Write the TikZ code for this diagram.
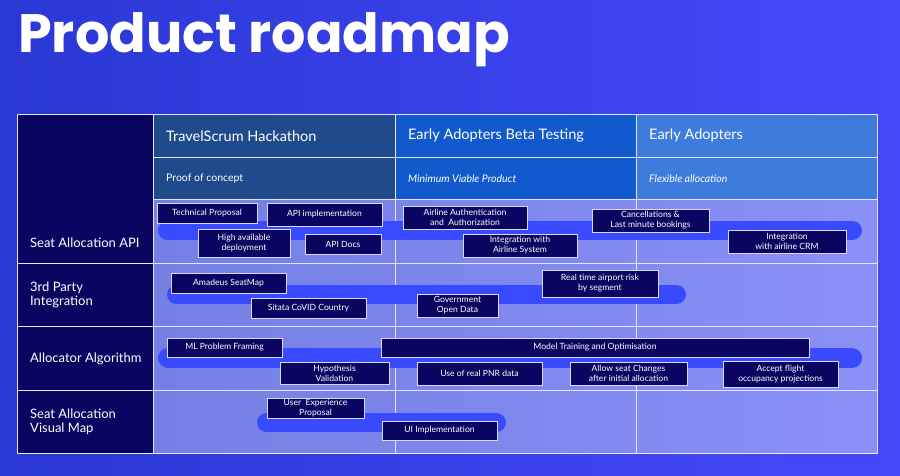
\documentclass[tikz,border=0pt]{standalone}
\usepackage{fontspec}
\setmainfont{Lato}
\newfontfamily\titlefont{Poppins}
\usetikzlibrary{positioning}

\definecolor{bgleft}{HTML}{2A38D5}
\definecolor{bgright}{HTML}{4648FA}
\definecolor{navy}{HTML}{0A0560}
\definecolor{hackblue}{HTML}{1F4A8C}
\definecolor{betablue}{HTML}{1259CE}
\definecolor{adoptblue}{HTML}{3D7BDC}
\definecolor{bodyleft}{HTML}{7480E3}
\definecolor{bodyright}{HTML}{8A90F6}
\definecolor{barblue}{HTML}{3A4BFF}

\tikzset{
  taskbox/.style={rectangle, draw=white!85!blue, line width=0.7pt, fill=navy,
    text=white, font=\fontsize{8.6}{10}\selectfont, align=center, inner sep=0pt},
  track/.style={draw=barblue, line width=19pt, line cap=round},
  gridline/.style={draw=white!90!blue, line width=0.7pt},
  cell/.style={rectangle, gridline, anchor=north west, inner sep=0pt},
  rowlabel/.style={text=white, font=\fontsize{13}{14.5}\selectfont, align=left,
    anchor=west, inner sep=0pt},
  phase/.style={text=white, font=\fontsize{14.5}{16}\selectfont, anchor=west, inner sep=0pt},
  goal/.style={text=white, font=\itshape\fontsize{10.5}{12}\selectfont, anchor=west, inner sep=0pt},
}

\begin{document}
\begin{tikzpicture}[x=1pt, y=-1pt]
  \useasboundingbox (0,0) rectangle (900,475);
  \shade[left color=bgleft, right color=bgright] (0,0) rectangle (900,475);

  % title
  \node[anchor=base west, inner sep=0pt, text=white,
  font=\titlefont\bfseries\fontsize{54}{54}\selectfont] (title) at (18,52) {Product roadmap};

  % table body
  \shade[left color=bodyleft, right color=bodyright] (153,199) rectangle (877,453);

  % left column
  \node[cell, fill=navy, minimum width=136pt, minimum height=149pt] (lab1) at (17,114) {};
  \node[cell, fill=navy, minimum width=136pt, minimum height=63pt] (lab2) at (17,263) {};
  \node[cell, fill=navy, minimum width=136pt, minimum height=64pt] (lab3) at (17,326) {};
  \node[cell, fill=navy, minimum width=136pt, minimum height=63pt] (lab4) at (17,390) {};

  % phase headers
  \node[cell, fill=hackblue, minimum width=242pt, minimum height=43pt] (h1) at (153,114) {};
  \node[cell, fill=betablue, minimum width=241pt, minimum height=43pt] (h2) at (395,114) {};
  \node[cell, fill=adoptblue, minimum width=241pt, minimum height=43pt] (h3) at (636,114) {};
  \node[cell, fill=hackblue, minimum width=242pt, minimum height=42pt] (s1) at (153,157) {};
  \node[cell, fill=betablue, minimum width=241pt, minimum height=42pt] (s2) at (395,157) {};
  \node[cell, fill=adoptblue, minimum width=241pt, minimum height=42pt] (s3) at (636,157) {};

  \node[phase, right=13pt of h1.west] (t1) {TravelScrum Hackathon};
  \node[phase, right=13pt of h2.west] (t2) {Early Adopters Beta Testing};
  \node[phase, right=13pt of h3.west] (t3) {Early Adopters};
  \node[goal, right=13pt of s1.west, font=\fontsize{10.5}{12}\selectfont] (g1) {Proof of concept};
  \node[goal, right=13pt of s2.west] (g2) {Minimum Viable Product};
  \node[goal, right=13pt of s3.west] (g3) {Flexible allocation};

  % grid
  \draw[gridline] (17,114) rectangle (877,453);
  \draw[gridline] (395,199) -- (395,453);
  \draw[gridline] (636,199) -- (636,453);
  \draw[gridline] (153,199) -- (877,199);
  \draw[gridline] (17,263) -- (877,263);
  \draw[gridline] (17,326) -- (877,326);
  \draw[gridline] (17,390) -- (877,390);

  % row labels
  \node[rowlabel] (r1) at (30,243) {Seat Allocation API};
  \node[rowlabel] (r2) at (30,295) {3rd Party\\Integration};
  \node[rowlabel] (r3) at (30,359) {Allocator Algorithm};
  \node[rowlabel] (r4) at (30,422) {Seat Allocation\\Visual Map};

  % tracks
  \coordinate (apiA) at (167.5,230.5);
  \coordinate (apiB) at (852.5,230.5);
  \coordinate (thirdA) at (176.5,294.5);
  \coordinate (thirdB) at (676.5,294.5);
  \coordinate (algoA) at (168,358);
  \coordinate (algoB) at (852,358);
  \coordinate (mapA) at (266.5,422.5);
  \coordinate (mapB) at (496.5,422.5);
  \draw[track] (apiA) -- (apiB);
  \draw[track] (thirdA) -- (thirdB);
  \draw[track, line width=20pt] (algoA) -- (algoB);
  \draw[track] (mapA) -- (mapB);

  % seat allocation api
  \node[taskbox, minimum width=100pt, minimum height=20pt] (tech) at (207,213) {Technical Proposal};
  \node[taskbox, minimum width=115pt, minimum height=23pt] (impl) at (324.5,214.5) {API implementation};
  \node[taskbox, minimum width=92pt, minimum height=28pt] (avail) at (244,243) {High available\\deployment};
  \node[taskbox, minimum width=76pt, minimum height=20pt] (docs) at (343,244) {API Docs};
  \node[taskbox, minimum width=124pt, minimum height=23pt] (auth) at (465,217.5) {Airline Authentication\\and~~Authorization};
  \node[taskbox, minimum width=114pt, minimum height=23pt] (sys) at (520,245.5) {Integration with\\Airline System};
  \node[taskbox, minimum width=117pt, minimum height=23pt] (cancel) at (650.5,220.5) {Cancellations \&\\Last minute bookings};
  \node[taskbox, minimum width=118pt, minimum height=23pt] (crm) at (787,241.5) {Integration\\with airline CRM};

  % 3rd party integration
  \node[taskbox, minimum width=115pt, minimum height=20pt] (amadeus) at (228.5,283) {Amadeus SeatMap};
  \node[taskbox, minimum width=115pt, minimum height=20pt] (sitata) at (308.5,308) {Sitata CoVID Country};
  \node[taskbox, minimum width=81pt, minimum height=23pt] (gov) at (457.5,305.5) {Government\\Open Data};
  \node[taskbox, minimum width=116pt, minimum height=27pt] (risk) at (600,283.5) {Real time airport risk\\by segment};

  % allocator algorithm
  \node[taskbox, minimum width=115pt, minimum height=19pt] (framing) at (224.5,347.5) {ML Problem Framing};
  \node[taskbox, minimum width=109pt, minimum height=22pt] (hypo) at (334.5,373) {Hypothesis\\Validation};
  \node[taskbox, minimum width=428pt, minimum height=19pt] (train) at (595,347.5) {Model Training and Optimisation};
  \node[taskbox, minimum width=125pt, minimum height=23pt] (pnr) at (479.5,373.5) {Use of real PNR data};
  \node[taskbox, minimum width=117pt, minimum height=23pt] (change) at (628.5,373.5) {Allow seat Changes\\after initial allocation};
  \node[taskbox, minimum width=115pt, minimum height=26pt] (occup) at (780.5,374) {Accept flight\\occupancy projections};

  % visual map
  \node[taskbox, minimum width=97pt, minimum height=20pt] (ux) at (315.5,408) {User~~Experience\\Proposal};
  \node[taskbox, minimum width=115pt, minimum height=19pt] (ui) at (439.5,430.5) {UI Implementation};
\end{tikzpicture}
\end{document}
